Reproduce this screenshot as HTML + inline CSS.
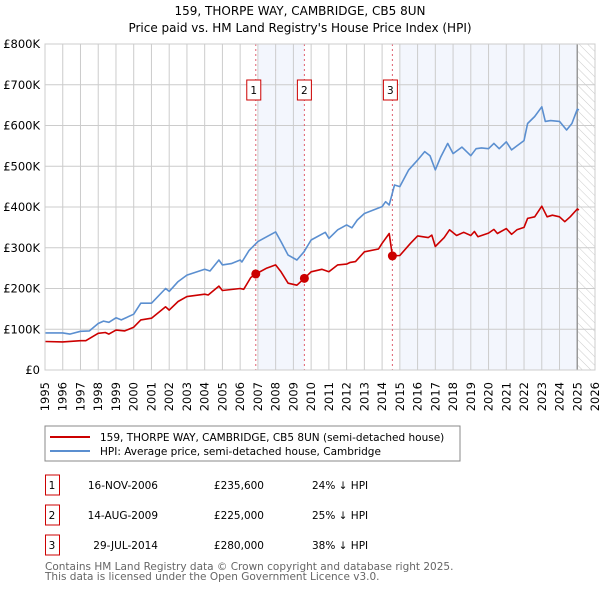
<!DOCTYPE html>
<html><head><meta charset="utf-8"><style>
body{margin:0;background:#fff;font-family:"DejaVu Sans","Liberation Sans",sans-serif;}
svg text{font-family:"DejaVu Sans","Liberation Sans",sans-serif;}
</style></head><body>
<svg id="c" width="600" height="590" viewBox="0 0 600 590" xmlns="http://www.w3.org/2000/svg">
<defs><pattern id="hatch" width="6" height="6" patternUnits="userSpaceOnUse" patternTransform="rotate(-45)"><line x1="0" y1="0" x2="0" y2="6" stroke="#ccc" stroke-width="1"/></pattern></defs>
<text x="300" y="15" text-anchor="middle" font-size="12">159, THORPE WAY, CAMBRIDGE, CB5 8UN</text>
<text x="300" y="32" text-anchor="middle" font-size="12">Price paid vs. HM Land Registry's House Price Index (HPI)</text>
<g id="plot"></g>
<g>
<rect x="45" y="426" width="415" height="35" fill="#fff" stroke="#888"/>
<line x1="50" y1="437" x2="90" y2="437" stroke="#cc0000" stroke-width="2"/>
<text x="100" y="441" font-size="10.5">159, THORPE WAY, CAMBRIDGE, CB5 8UN (semi-detached house)</text>
<line x1="50" y1="451" x2="90" y2="451" stroke="#5b8fd0" stroke-width="2"/>
<text x="100" y="455" font-size="10.5">HPI: Average price, semi-detached house, Cambridge</text>
</g>
<g id="table" font-size="10.5"></g>
<text x="45" y="570" font-size="10.5" fill="#666">Contains HM Land Registry data © Crown copyright and database right 2025.</text>
<text x="45" y="580" font-size="10.5" fill="#666">This data is licensed under the Open Government Licence v3.0.</text>
</svg>
<script>
const hpiYears=[1995,1996,1996.4,1997,1997.5,1998,1998.3,1998.6,1999,1999.3,2000,2000.4,2001,2001.8,2002,2002.5,2003,2004,2004.3,2004.8,2005,2005.5,2006,2006.1,2006.5,2007,2007.5,2008,2008.3,2008.7,2009.2,2009.6,2010,2010.8,2011,2011.5,2012,2012.3,2012.6,2013,2014,2014.2,2014.4,2014.7,2015,2015.5,2016,2016.4,2016.7,2017,2017.3,2017.7,2018,2018.5,2019,2019.3,2019.6,2020,2020.3,2020.6,2021,2021.3,2021.6,2022,2022.2,2022.6,2023,2023.2,2023.5,2024,2024.4,2024.7,2025,2025.1];
const hpiValues=[91,91,88,95,96,114,120,117,128,123,137,164,164,200,193,217,233,247,243,270,258,261,270,265,293,315,327,339,315,282,270,290,319,338,323,344,356,349,368,384,401,413,405,454,450,491,515,536,526,491,522,556,531,547,526,543,545,543,556,543,560,540,550,563,605,622,646,610,612,610,589,605,640,638];
const ppYears=[1995,1996,1997,1997.3,1998,1998.4,1998.6,1999,1999.5,2000,2000.4,2001,2001.8,2002,2002.5,2003,2004,2004.2,2004.8,2005,2006,2006.2,2006.6,2006.88,2007.5,2008,2008.3,2008.7,2009.2,2009.62,2010,2010.6,2011,2011.5,2012,2012.2,2012.5,2013,2013.8,2014,2014.4,2014.58,2015,2015.6,2016,2016.6,2016.8,2017,2017.5,2017.8,2018.2,2018.6,2019,2019.2,2019.4,2020,2020.3,2020.5,2021,2021.3,2021.6,2022,2022.2,2022.6,2023,2023.3,2023.6,2024,2024.3,2024.6,2025,2025.1];
const ppValues=[70,69,72,72,90,92,88,98,96,105,123,127,155,147,168,180,186,184,206,195,200,198,227,235.6,250,258,241,213,208,225,241,247,241,258,260,264,266,290,297,311,335,280,281,311,329,325,331,303,325,344,330,338,330,340,327,336,345,335,347,333,344,350,372,376,402,376,380,376,364,376,395,393];
const saleLabels=["1","2","3"];
const saleYears=[2006.88,2009.62,2014.58];
const salePrices=[235.6,225,280];
const saleDates=["16-NOV-2006","14-AUG-2009","29-JUL-2014"];
const salePriceText=["£235,600","£225,000","£280,000"];
const saleHpiText=["24% ↓ HPI","25% ↓ HPI","38% ↓ HPI"];
const yTicks=[0,100,200,300,400,500,600,700,800];
const yTickLabels=["£0","£100K","£200K","£300K","£400K","£500K","£600K","£700K","£800K"];
const xTicks=[1995,1996,1997,1998,1999,2000,2001,2002,2003,2004,2005,2006,2007,2008,2009,2010,2011,2012,2013,2014,2015,2016,2017,2018,2019,2020,2021,2022,2023,2024,2025,2026];

const X0=45,X1=595,Y0=370,Y1=44;
const xs=y=>X0+(y-1995)/(2026-1995)*(X1-X0);
const ys=v=>Y0-v/800*(Y0-Y1);
const NS="http://www.w3.org/2000/svg";
const plot=document.getElementById('plot');
function mk(tag,at,parent){const e=document.createElementNS(NS,tag);for(const k in at)e.setAttribute(k,at[k]);(parent||plot).appendChild(e);return e;}

let r=mk('rect',{x:X0,y:Y1,width:X1-X0,height:Y0-Y1,fill:'#fff'});


r=mk('rect',{x:xs(2007),y:Y1,width:xs(2009.62)-xs(2007),height:Y0-Y1,fill:'#f3f6fd'});


r=mk('rect',{x:xs(2015),y:Y1,width:xs(2025)-xs(2015),height:Y0-Y1,fill:'#f3f6fd'});


r=mk('rect',{x:xs(2025),y:Y1,width:X1-xs(2025),height:Y0-Y1,fill:'url(#hatch)'});



yTicks.forEach((v,i)=>{
 const l=mk('line',{x1:X0,x2:X1,y1:ys(v),y2:ys(v),stroke:'#ccc','stroke-width':1});
 
 
 const t=mk('text',{x:X0-5,y:ys(v)+4,'text-anchor':'end','font-size':11.5});
 t.textContent=yTickLabels[i];
 
 
});
xTicks.forEach(y=>{
 const l=mk('line',{x1:xs(y),x2:xs(y),y1:Y1,y2:Y0,stroke:'#ccc','stroke-width':1});
 
 
 const t=mk('text',{x:0,y:0,'text-anchor':'end','font-size':11.5,transform:`translate(${xs(y)+4},${Y0+12}) rotate(-90)`});
 t.textContent=y;
 
 
});
r=mk('line',{x1:xs(2025),x2:xs(2025),y1:Y1,y2:Y0,stroke:'#999','stroke-width':1.5});



saleYears.forEach((y,i)=>{
 const l=mk('line',{x1:xs(y),x2:xs(y),y1:Y1,y2:Y0,stroke:'#e06070','stroke-width':1,'stroke-dasharray':'2,3'});
 
 
});

function path(xa,va,color,name){
 const d=xa.map((y,i)=>(i?'L':'M')+xs(y).toFixed(1)+','+ys(va[i]).toFixed(1)).join('');
 const p=mk('path',{d:d,fill:'none',stroke:color,'stroke-width':1.6,'stroke-linejoin':'round'});
 
 
}
path(hpiYears,hpiValues,'#5b8fd0','hpi-line');
path(ppYears,ppValues,'#cc0000','property-price-line');

saleYears.forEach((y,i)=>{
 const c=mk('circle',{cx:xs(y),cy:ys(salePrices[i]),r:4.5,fill:'#cc0000'});
 
 
 const b=mk('rect',{x:xs(y)-7-(i==0?2:i==2?2:0),y:80,width:14,height:20,fill:'#fff',stroke:'#cc0000','stroke-width':1});
 
 
 const t=mk('text',{x:xs(y)-(i==0?2:i==2?2:0),y:94,'text-anchor':'middle','font-size':10.5});
 t.textContent=saleLabels[i];
 
 
});
r=mk('rect',{x:X0,y:Y1,width:X1-X0,height:Y0-Y1,fill:'none',stroke:'#ccc'});



const tbl=document.getElementById('table');
saleLabels.forEach((s,i)=>{
 const yy=475+i*30;
 const b=mk('rect',{x:45.5,y:yy,width:14,height:20,fill:'#fff',stroke:'#cc0000'},tbl);
 
 
 const cells=[[52,s,'middle'],[158,saleDates[i],'end'],[264,salePriceText[i],'end'],[312,saleHpiText[i],'start']];
 cells.forEach(([x,txt,a],j)=>{
  const t=mk('text',{x:x,y:yy+14,'text-anchor':a,'font-size':10.5},tbl);
  t.textContent=txt;
  
  
 });
});
</script>
</body></html>
